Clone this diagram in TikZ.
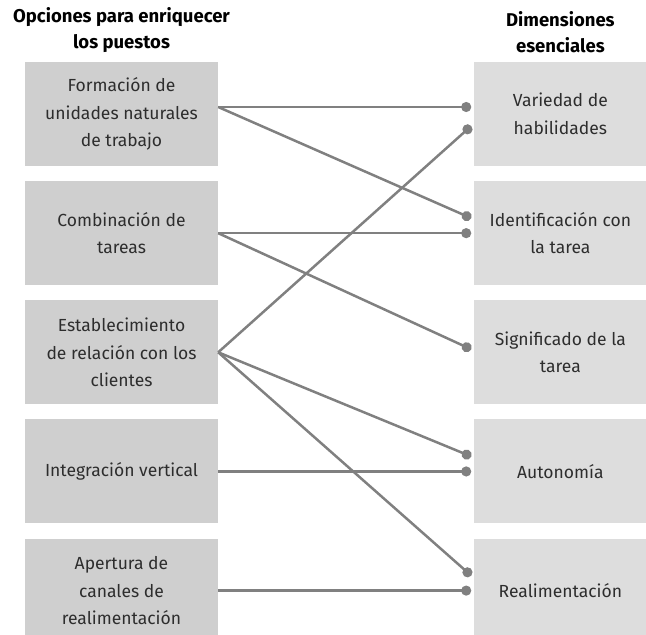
\documentclass[tikz,border=0pt]{standalone}
\usepackage{fontspec}
\setmainfont{Fira Sans}
\usepackage{xcolor}
\usetikzlibrary{arrows.meta,positioning}
\definecolor{boxleft}{RGB}{207,207,207}
\definecolor{boxright}{RGB}{221,221,221}
\definecolor{linkgray}{RGB}{128,128,128}
\definecolor{textdark}{RGB}{45,45,45}
\newcommand{\bodyfont}{\fontsize{17.5}{27.5}\selectfont}
\newcommand{\headfont}{\fontsize{18.5}{26}\selectfont\bfseries}

\begin{document}
\begin{tikzpicture}[x=1pt, y=1pt, node distance=14.75pt,
    option/.style={rectangle, fill=boxleft, minimum width=193pt, minimum height=104pt, inner sep=0pt, align=center, text=textdark, font=\bodyfont},
    dimension/.style={option, fill=boxright, minimum width=172pt},
    header/.style={align=center, inner sep=0pt, text=black, font=\headfont},
    link/.style={-{Circle[length=10pt]}, line width=2.5pt, draw=linkgray}]

\useasboundingbox (0,0) rectangle (646,-635);

% options (left column)
\node[option] (L1) at (121.5,-114) {Formación de\\unidades naturales\\de trabajo};
\node[option, below=of L1] (L2) {Combinación de\\tareas};
\node[option, below=of L2] (L3) {Establecimiento\\de relación con los\\clientes};
\node[option, below=of L3] (L4) {Integración vertical};
\node[option, below=of L4] (L5) {Apertura de\\canales de\\realimentación};

% dimensions (right column)
\node[dimension, right=256pt of L1] (R1) {Variedad de\\habilidades};
\node[dimension, below=of R1] (R2) {Identificación con\\la tarea};
\node[dimension, below=of R2] (R3) {Significado de la\\tarea};
\node[dimension, below=of R3] (R4) {Autonomía};
\node[dimension, below=of R4] (R5) {Realimentación};

\node[header, above=9pt of L1] (HL) {Opciones para enriquecer\\los puestos};
\node[header, above=9pt of R1] (HR) {Dimensiones\\esenciales};

% connector ends
\coordinate (S1) at ([yshift=7pt]L1.east);
\coordinate (R1a) at ([xshift=-3pt, yshift=7pt]R1.west);
\coordinate (R1b) at ([xshift=-3pt, yshift=-12pt]R1.west);
\coordinate (R2a) at ([xshift=-3pt, yshift=15pt]R2.west);
\coordinate (R2b) at ([xshift=-3pt]R2.west);
\coordinate (R3a) at ([xshift=-3pt, yshift=3pt]R3.west);
\coordinate (R4a) at ([xshift=-3pt, yshift=15pt]R4.west);
\coordinate (R4b) at ([xshift=-3pt]R4.west);
\coordinate (R5a) at ([xshift=-3pt, yshift=15pt]R5.west);
\coordinate (R5b) at ([xshift=-3pt]R5.west);

\draw[link] (S1) -- (R1a);
\draw[link] (S1) -- (R2a);
\draw[link] (L2.east) -- (R2b);
\draw[link] (L2.east) -- (R3a);
\draw[link] (L3.east) -- (R1b);
\draw[link] (L3.east) -- (R4a);
\draw[link] (L3.east) -- (R5a);
\draw[link] (L4.east) -- (R4b);
\draw[link] (L5.east) -- (R5b);
\end{tikzpicture}
\end{document}
